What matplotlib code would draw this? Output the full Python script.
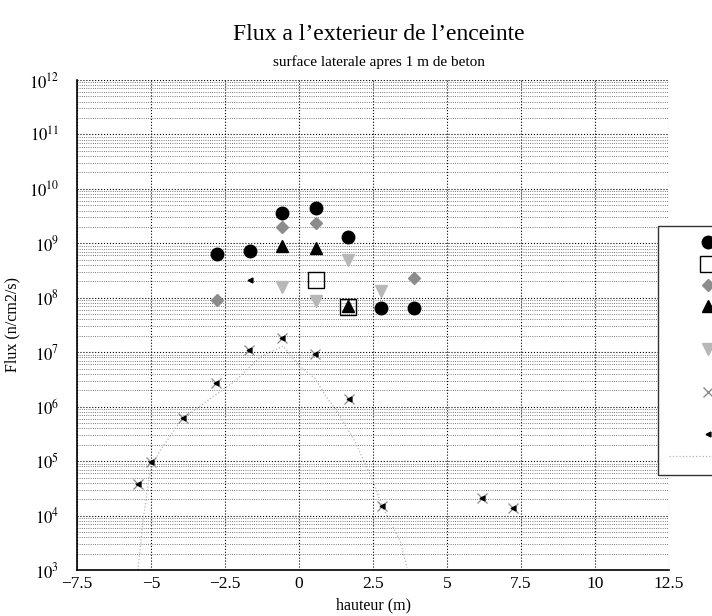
import matplotlib
matplotlib.use("Agg")
import matplotlib.pyplot as plt
from matplotlib.lines import Line2D
from matplotlib.ticker import FixedLocator, NullFormatter

plt.rcParams['font.family'] = ['Liberation Serif', 'DejaVu Serif']
plt.rcParams['mathtext.fontset'] = 'stix'

# data
x_circle = [-2.78, -1.67, -0.56, 0.56, 1.67, 2.78, 3.89]
y_circle = [6.3e8, 7.1e8, 3.6e9, 4.4e9, 1.3e9, 6.4e7, 6.4e7]

x_square = [0.56, 1.67]
y_square = [2.1e8, 6.8e7]

x_diamond = [-2.78, -0.56, 0.56, 3.89]
y_diamond = [9.0e7, 2.0e9, 2.4e9, 2.3e8]

x_triangle = [-0.56, 0.56, 1.67]
y_triangle = [8.9e8, 8.3e8, 7.2e7]

x_tridown = [-0.56, 0.56, 1.67, 2.78]
y_tridown = [1.6e8, 8.6e7, 4.9e8, 1.35e8]

x_cross = [-5.45, -5.0, -3.93, -2.8, -1.68, -0.58, 0.55, 1.7, 2.81, 6.17, 7.22]
y_cross = [3.8e4, 9.7e4, 6.3e5, 2.7e6, 1.1e7, 1.8e7, 9.1e6, 1.4e6, 1.5e4, 2.1e4, 1.35e4]

x_arrow = [-5.45, -5.0, -3.93, -2.8, -1.68, -1.67, -0.58, 0.55, 1.7, 2.81, 6.17, 7.22]
y_arrow = [3.8e4, 9.7e4, 6.3e5, 2.7e6, 1.1e7, 2.1e8, 1.8e7, 9.1e6, 1.4e6, 1.5e4, 2.1e4, 1.35e4]

x_curve = [-5.44, -5.27, -5.03, -4.7, -3.95, -3.0, -2.16, -1.32, -0.54, 0.03,
           0.54, 0.95, 1.28, 1.89, 2.5, 2.8, 3.41, 3.65]
y_curve = [1.0e3, 7.9e3, 6.6e4, 1.55e5, 5.9e5, 1.4e6, 2.95e6, 8.1e6, 1.3e7, 5.5e6,
           3.3e6, 1.45e6, 8.3e5, 2.3e5, 4.4e4, 1.5e4, 3.5e3, 1.1e3]

x_ticks = [-7.5, -5, -2.5, 0, 2.5, 5, 7.5, 10, 12.5]
x_ticklabels = ['\u22127.5', '\u22125', '\u22122.5', '0', '2.5', '5', '7.5', '10', '12.5']
decades = list(range(3, 13))

fig = plt.figure(figsize=(7.12, 6.16), dpi=100)
ax = fig.add_axes([77/712, 46/616, 592/712, 490/616])

ax.plot(x_curve, y_curve, ls=':', color='0.7', lw=0.9)
ax.plot(x_square, y_square, ls='none', marker='s', ms=12, mfc='none', mec='k', mew=1.0)
ax.plot(x_diamond, y_diamond, ls='none', marker='D', ms=6.5, color='0.55')
ax.plot(x_tridown, y_tridown, ls='none', marker='v', ms=8, color='0.72')
ax.plot(x_cross, y_cross, ls='none', marker='x', ms=7, color='0.55', mew=0.9)
ax.plot(x_arrow, y_arrow, ls='none', marker='<', ms=3.5, color='k')
ax.plot(x_circle, y_circle, ls='none', marker='o', ms=9, color='k')
ax.plot(x_triangle, y_triangle, ls='none', marker='^', ms=9, color='k')

ax.set_yscale('log')
ax.set_xlim(-7.5, 12.5)
ax.set_ylim(1e3, 1e12)
ax.set_xticks(x_ticks)
ax.set_xticklabels(x_ticklabels)
ax.set_yticks([10.0 ** d for d in decades])
ax.set_yticklabels([r'$10^{%d}$' % d for d in decades])
ax.yaxis.set_minor_locator(FixedLocator([k * 10.0 ** d for d in decades[:-1] for k in range(2, 10)]))
ax.yaxis.set_minor_formatter(NullFormatter())
ax.tick_params(axis='x', labelsize=12.5, length=0, pad=4)
ax.tick_params(axis='y', labelsize=12, length=0, pad=13)
ax.tick_params(which='minor', length=0)

ax.grid(True, which='major', ls=':', color='k', lw=0.8)
ax.grid(True, which='minor', axis='y', ls=':', color='0.3', lw=0.6)
ax.spines['top'].set_visible(False)
ax.spines['right'].set_visible(False)
ax.spines['left'].set_linewidth(1.2)
ax.spines['bottom'].set_linewidth(1.2)

ax.set_xlabel('hauteur (m)', fontsize=11.5, labelpad=4)
ax.set_ylabel('Flux (n/cm2/s)', fontsize=11.5, labelpad=6)

fig.text(0.5325, 1 - 35/616, 'Flux a l\u2019exterieur de l\u2019enceinte', ha='center', va='center', fontsize=17)
fig.text(0.5325, 1 - 62/616, 'surface laterale apres 1 m de beton', ha='center', va='center', fontsize=11)

blank = Line2D([], [], ls='none', marker='none')
handles = [
    Line2D([], [], ls='none', marker='o', ms=9, color='k'),
    Line2D([], [], ls='none', marker='s', ms=12, mfc='none', mec='k'),
    Line2D([], [], ls='none', marker='D', ms=6.5, color='0.55'),
    Line2D([], [], ls='none', marker='^', ms=9, color='k'),
    blank,
    Line2D([], [], ls='none', marker='v', ms=8, color='0.72'),
    blank,
    Line2D([], [], ls='none', marker='x', ms=7, color='0.55'),
    blank,
    Line2D([], [], ls='none', marker='<', ms=3.5, color='k'),
    Line2D([], [], ls=':', color='0.7', lw=0.9),
]
leg = fig.legend(handles, [' '] * len(handles), loc='upper left',
                 bbox_to_anchor=(658/712, 1 - 226/616), bbox_transform=fig.transFigure,
                 borderaxespad=0, fontsize=10, labelspacing=0.6, handlelength=5.6,
                 borderpad=0.8, fancybox=False, framealpha=1, edgecolor='0.2')
leg.get_frame().set_linewidth(1.0)

fig.savefig('out.png', dpi=100)
